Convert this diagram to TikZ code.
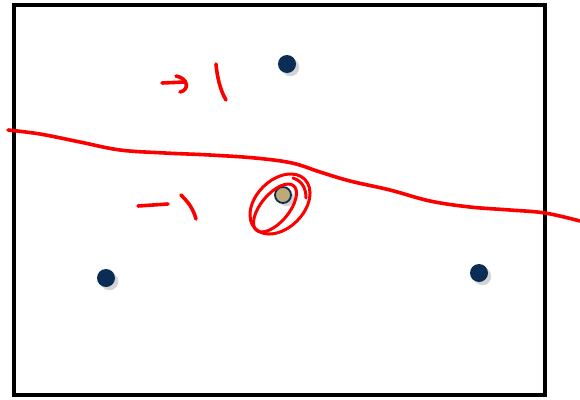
\documentclass[tikz,border=0pt]{standalone}
\usetikzlibrary{shadows}
\definecolor{navy}{RGB}{10,45,85}
\definecolor{tan}{RGB}{190,170,120}
\definecolor{ink}{RGB}{250,0,0}
\begin{document}
\begin{tikzpicture}[x=1pt,y=-1pt,
  dot/.style={circle,fill=navy,minimum size=18pt,inner sep=0pt,
    circular drop shadow={shadow xshift=3pt,shadow yshift=-3pt,opacity=0.35,shadow scale=1.05}},
  tandot/.style={circle,fill=tan,draw=navy,line width=1.8pt,minimum size=16pt,inner sep=0pt,
    circular drop shadow={shadow xshift=3pt,shadow yshift=-3pt,opacity=0.35,shadow scale=1.05}},
  pen/.style={draw=ink,line width=3.6pt,line cap=round,line join=round},
  thinpen/.style={draw=ink,line width=3pt,line cap=round,line join=round}]
\useasboundingbox (0,0) rectangle (580,399);
% frame
\draw[line width=3.2pt] (14,5) rectangle (545,395);
% dots
\node[dot] (top) at (287,64) {};
\node[dot] (left) at (106,278) {};
\node[dot] (right) at (479,273) {};
\node[tandot] (mid) at (283,195) {};
% red line
\draw[pen] plot[smooth,tension=0.6] coordinates {(8,130) (40,134) (80,142) (120,150) (165,153) (210,155) (255,158) (292,163) (320,172) (350,181) (390,190) (430,201) (470,207) (510,210) (545,213) (580,221)};
% circle scribble
\draw[thinpen,rotate around={45:(280,204)}] (280,204) ellipse [x radius=35,y radius=24];
\draw[thinpen,rotate around={50:(275,208)}] (275,208) ellipse [x radius=29,y radius=14];
\draw[thinpen] (293,178) .. controls (302,181) and (306,188) .. (306,198);
% -> 1
\draw[pen] (162,83) -- (185,82);
\draw[pen] (176,76) .. controls (188,78) and (190,90) .. (180,92);
\draw[pen] (216,64) .. controls (217,76) and (220,90) .. (226,100);
% -1
\draw[pen] (138,206) -- (168,204);
\draw[pen] (181,195) .. controls (188,202) and (193,208) .. (196,219);
\end{tikzpicture}
\end{document}
